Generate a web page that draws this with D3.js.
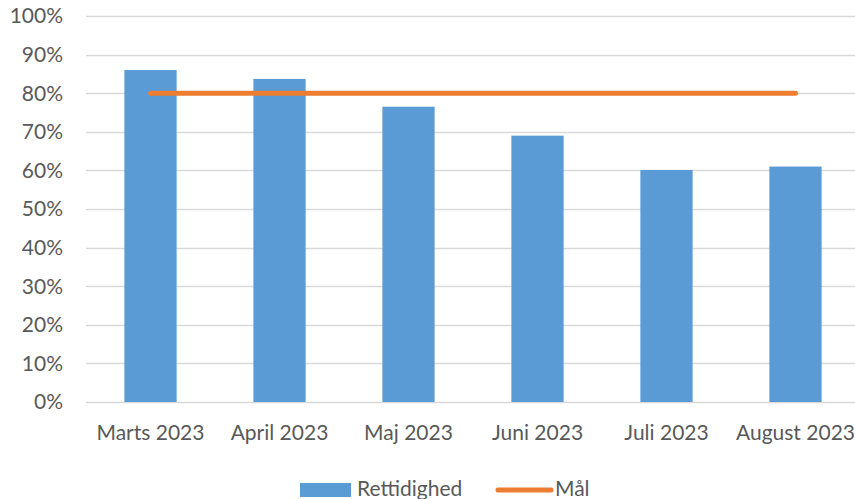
<!DOCTYPE html>
<html>
<head>
<meta charset="utf-8">
<script src="https://cdn.jsdelivr.net/npm/d3@7"></script>
<style>
  body { margin: 0; background: #fff; }
  text { font-family: Lato, "Open Sans", sans-serif; fill: #595959; }
</style>
</head>
<body>
<div id="chart"></div>
<script>
const months = ["Marts 2023", "April 2023", "Maj 2023", "Juni 2023", "Juli 2023", "August 2023"];
const rettidighed = [0.86, 0.837, 0.765, 0.69, 0.601, 0.61];
const maal = [0.8, 0.8, 0.8, 0.8, 0.8, 0.8];
const yTicks = [0, 0.1, 0.2, 0.3, 0.4, 0.5, 0.6, 0.7, 0.8, 0.9, 1];

const width = 855, height = 499;
const margin = { top: 16, right: 0, bottom: 97, left: 86 };

const svg = d3.select("#chart").append("svg")
  .attr("width", width)
  .attr("height", height);

const x = d3.scaleBand()
  .domain(months)
  .range([margin.left, 860])
  .paddingInner(0.595)
  .paddingOuter(0.2975);

const y = d3.scaleLinear()
  .domain([0, 1])
  .range([height - margin.bottom, margin.top]);

// gridlines
svg.append("g")
  .selectAll("line")
  .data(yTicks)
  .enter()
  .append("line")
  .attr("x1", margin.left)
  .attr("x2", width - margin.right)
  .attr("y1", d => Math.round(y(d)) + 0.5)
  .attr("y2", d => Math.round(y(d)) + 0.5)
  .attr("stroke", "#d9d9d9")
  .attr("stroke-width", 1.5);

// y labels
svg.append("g")
  .selectAll("text")
  .data(yTicks)
  .enter()
  .append("text")
  .attr("x", 63)
  .attr("y", d => y(d))
  .attr("dy", "0.35em")
  .attr("text-anchor", "end")
  .style("font-size", "21px")
  .text(d => d3.format(".0%")(d));

// bars
svg.append("g")
  .selectAll("rect")
  .data(rettidighed)
  .enter()
  .append("rect")
  .attr("x", (d, i) => x(months[i]))
  .attr("y", d => y(d))
  .attr("width", x.bandwidth())
  .attr("height", d => y(0) - y(d))
  .attr("fill", "#5b9bd5");

// target line
const line = d3.line()
  .x((d, i) => x(months[i]) + x.bandwidth() / 2)
  .y(d => y(d));

svg.append("path")
  .datum(maal)
  .attr("d", line)
  .attr("fill", "none")
  .attr("stroke", "#ed7d31")
  .attr("stroke-width", 5)
  .attr("stroke-linecap", "round");

// x labels
svg.append("g")
  .selectAll("text")
  .data(months)
  .enter()
  .append("text")
  .attr("x", d => x(d) + x.bandwidth() / 2)
  .attr("y", 440)
  .attr("text-anchor", "middle")
  .style("font-size", "21px")
  .text(d => d);

// legend
const legend = svg.append("g");
legend.append("rect")
  .attr("x", 300)
  .attr("y", 483)
  .attr("width", 51)
  .attr("height", 14)
  .attr("fill", "#5b9bd5");
legend.append("text")
  .attr("x", 357)
  .attr("y", 496)
  .style("font-size", "21px")
  .text("Rettidighed");
legend.append("line")
  .attr("x1", 498)
  .attr("x2", 551)
  .attr("y1", 490)
  .attr("y2", 490)
  .attr("stroke", "#ed7d31")
  .attr("stroke-width", 5)
  .attr("stroke-linecap", "round");
legend.append("text")
  .attr("x", 555)
  .attr("y", 496)
  .style("font-size", "21px")
  .text("Mål");
</script>
</body>
</html>
